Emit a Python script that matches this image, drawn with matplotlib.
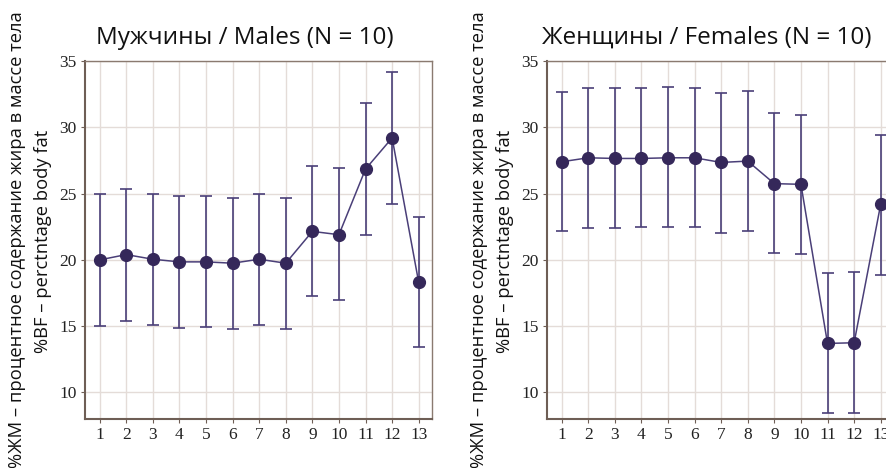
import matplotlib
matplotlib.use("Agg")
import matplotlib.pyplot as plt
import numpy as np

# data (mean, upper/lower whisker)
points = list(range(1, 14))

males_mean = [20.0, 20.4, 20.05, 19.85, 19.85, 19.75, 20.05, 19.75, 22.15, 21.9, 26.85, 29.2, 18.3]
males_hi = [24.95, 25.35, 25.0, 24.8, 24.8, 24.7, 25.0, 24.7, 27.1, 26.95, 31.8, 34.15, 23.2]
males_lo = [15.05, 15.4, 15.1, 14.9, 14.95, 14.8, 15.1, 14.8, 17.25, 17.0, 21.9, 24.2, 13.4]

females_mean = [27.4, 27.7, 27.65, 27.65, 27.7, 27.7, 27.35, 27.45, 25.75, 25.7, 13.7, 13.75, 24.2]
females_hi = [32.65, 32.95, 32.95, 32.95, 33.05, 33.0, 32.6, 32.75, 31.05, 30.95, 19.0, 19.05, 29.4]
females_lo = [22.15, 22.4, 22.4, 22.45, 22.5, 22.45, 22.05, 22.15, 20.5, 20.45, 8.45, 8.45, 18.85]

titles = ["Мужчины / Males (N = 10)", "Женщины / Females (N = 10)"]
ylabel1 = "%ЖМ – процентное содержание жира в массе тела"
ylabel2 = "%BF – perctntage body fat"

line_col = "#4a3f78"
marker_col = "#35285a"
grid_col = "#e4dcd8"
spine_col = "#6e5e55"

fig = plt.figure(figsize=(8.87, 4.68), dpi=100)

W, H = 887, 468
ax_left = fig.add_axes([85 / W, 1 - 419 / H, 347 / W, 358 / H])
ax_right = fig.add_axes([547 / W, 1 - 419 / H, 347 / W, 358 / H])

panels = [
    (ax_left, males_mean, males_lo, males_hi, titles[0], 85),
    (ax_right, females_mean, females_lo, females_hi, titles[1], 547),
]

for ax, mean, lo, hi, title, x0 in panels:
    mean = np.array(mean)
    yerr = [mean - np.array(lo), np.array(hi) - mean]
    ax.errorbar(points, mean, yerr=yerr, fmt="none", ecolor=line_col,
                elinewidth=1.2, capsize=4, capthick=1.2, zorder=3)
    ax.plot(points, mean, color=line_col, lw=1.1, zorder=4)
    ax.plot(points, mean, "o", color=marker_col, ms=8.5, zorder=5)

    ax.set_xlim(0.45, 13.5)
    ax.set_ylim(8, 35)
    ax.set_xticks(points)
    ax.set_yticks([10, 15, 20, 25, 30, 35])
    ax.grid(True, color=grid_col, lw=1.0, zorder=0, snap=True)
    ax.set_axisbelow(True)

    for lab in ax.get_xticklabels() + ax.get_yticklabels():
        lab.set_fontfamily("Liberation Serif")
        lab.set_fontsize(12.5)
        lab.set_color("#222222")
    ax.tick_params(axis="both", length=3, width=0.8, color=spine_col, pad=3)

    for side in ["left", "bottom"]:
        ax.spines[side].set_color(spine_col)
        ax.spines[side].set_linewidth(1.5)
    for side in ["top", "right"]:
        ax.spines[side].set_color("#8a7a70")
        ax.spines[side].set_linewidth(1.0)

    fig.text((x0 + 160) / W, 1 - 38 / H, title, ha="center", va="center",
             fontsize=17.5, family="Open Sans", color="#111111")

    fig.text((x0 - 68) / W, 1 - 240 / H, ylabel1, rotation=90, ha="center",
             va="center", fontsize=13.2, family="Open Sans", color="#111111")
    fig.text((x0 - 42) / W, 1 - 241 / H, ylabel2, rotation=90, ha="center",
             va="center", fontsize=13.2, family="Open Sans", color="#111111")

fig.savefig("out.png", dpi=100)
